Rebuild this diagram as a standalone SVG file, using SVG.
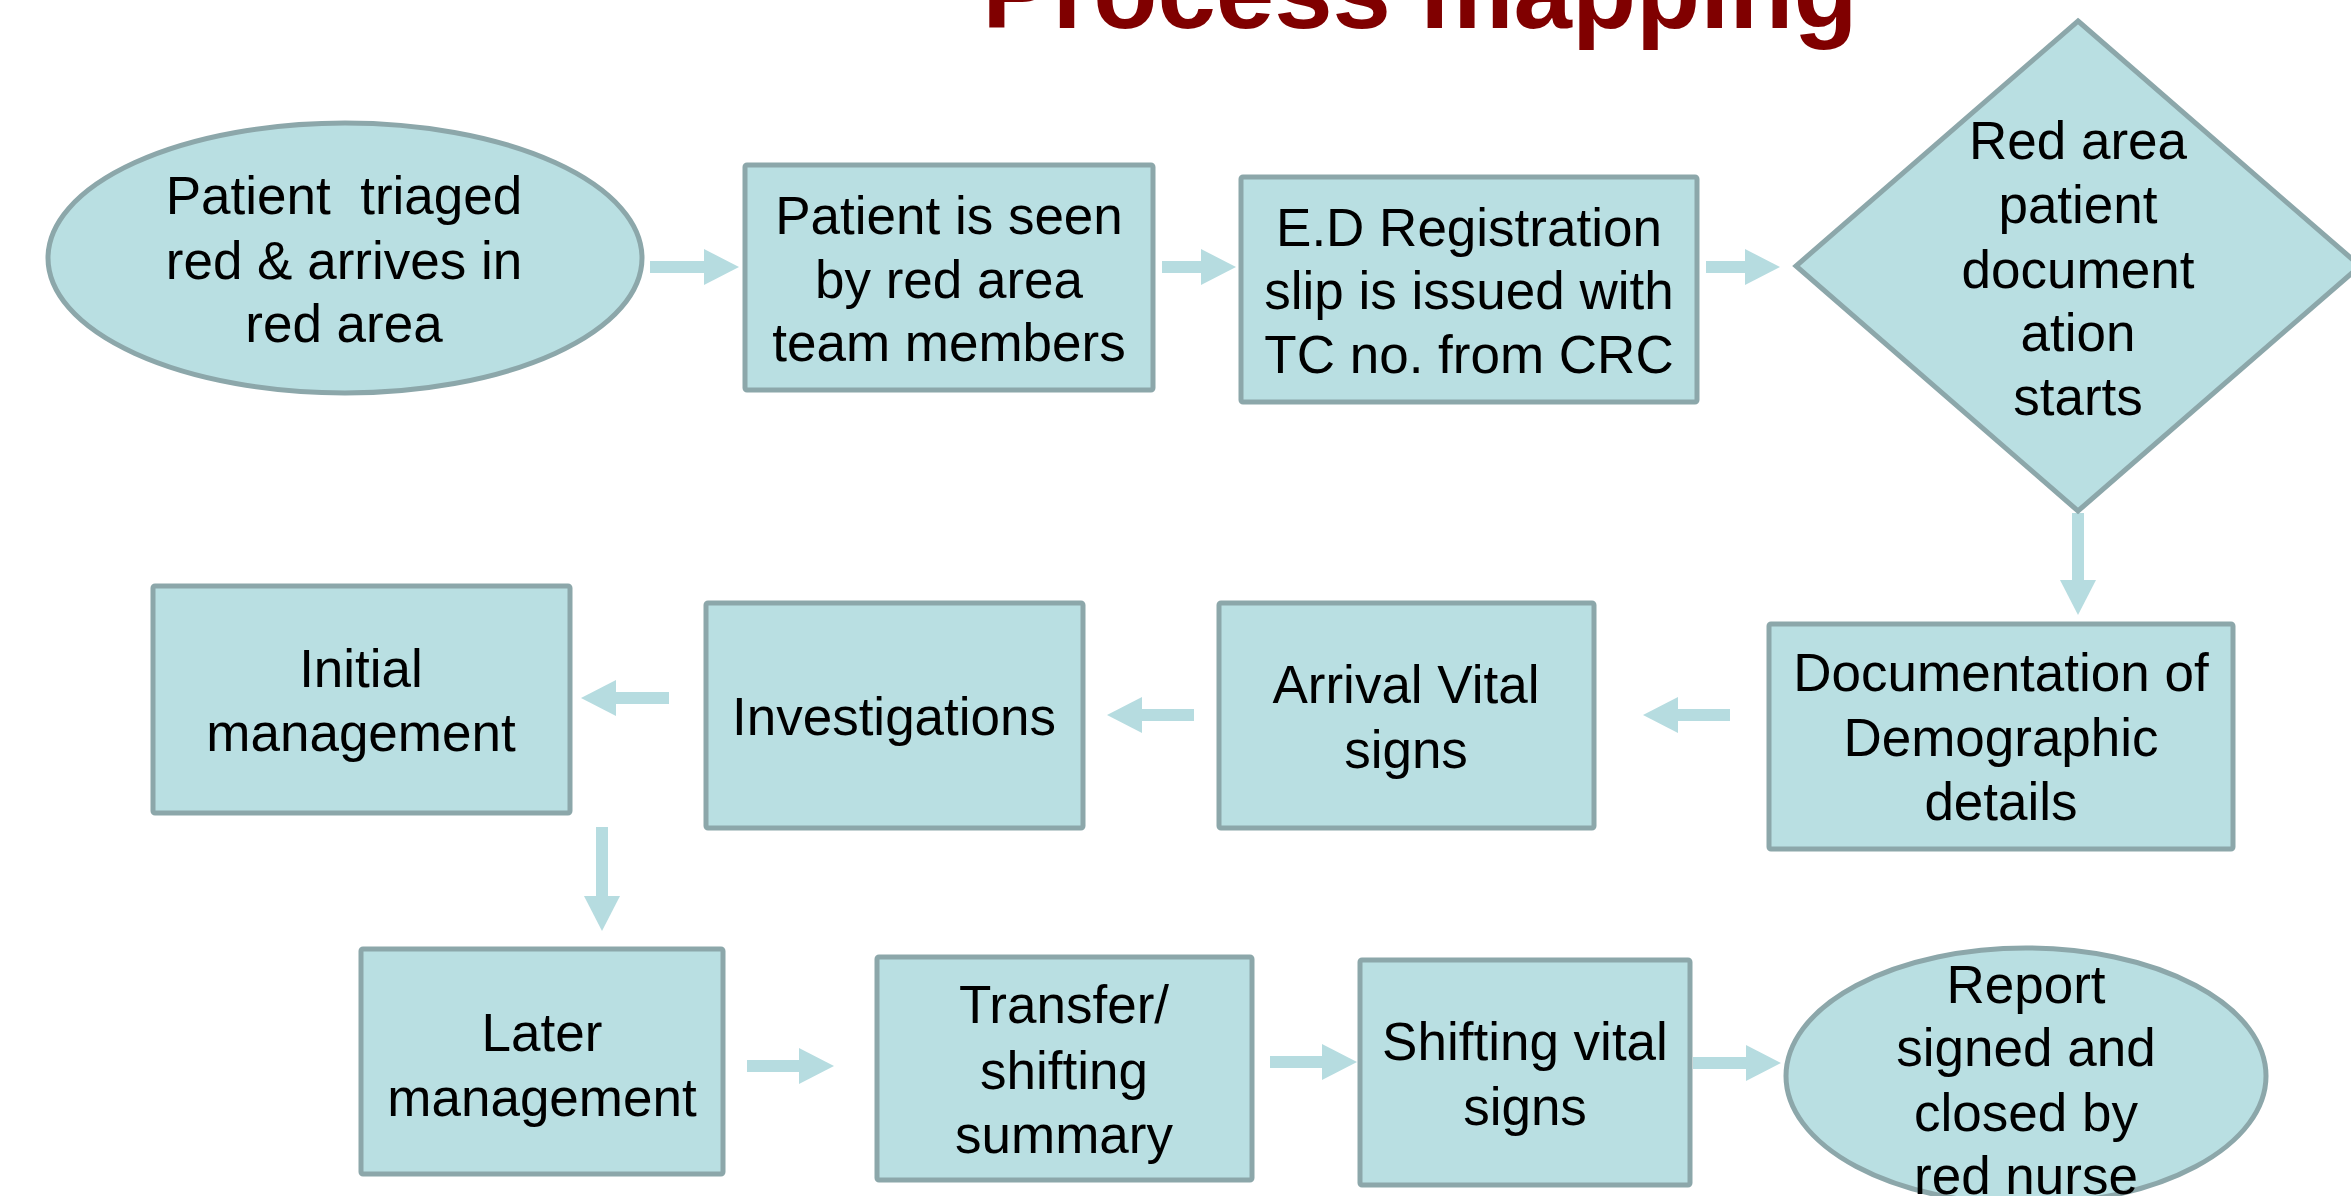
<svg xmlns="http://www.w3.org/2000/svg" width="2351" height="1196" viewBox="0 0 2351 1196">
<style>
.n{fill:#b9dfe2;stroke:#8ca7aa;stroke-width:5}
.t{font-family:"Liberation Sans",Arial,sans-serif;font-size:53px;fill:#000;text-anchor:middle;white-space:pre}
.title{font-family:"Liberation Sans",Arial,sans-serif;font-size:105px;font-weight:bold;fill:#800000;text-anchor:middle}
.c{stroke:#b6dce0;stroke-width:12;fill:none;marker-end:url(#ah)}
</style>
<defs>
<marker id="ah" markerUnits="userSpaceOnUse" markerWidth="35" markerHeight="36" refX="0" refY="18" orient="auto" overflow="visible">
<path d="M0,0 L35,18 L0,36 Z" fill="#b6dce0"/>
</marker>
</defs>
<rect width="2351" height="1196" fill="#fff"/>
<text class="title" x="1420" y="28">Process mapping</text>
<g id="connectors">
<line class="c" x1="650" y1="267" x2="704" y2="267"/>
<line class="c" x1="1162" y1="267" x2="1201" y2="267"/>
<line class="c" x1="1706" y1="267" x2="1745" y2="267"/>
<line class="c" x1="2078" y1="513" x2="2078" y2="580"/>
<line class="c" x1="1730" y1="715" x2="1678" y2="715"/>
<line class="c" x1="1194" y1="715" x2="1142" y2="715"/>
<line class="c" x1="669" y1="698" x2="616" y2="698"/>
<line class="c" x1="602" y1="827" x2="602" y2="896"/>
<line class="c" x1="747" y1="1066" x2="799" y2="1066"/>
<line class="c" x1="1270" y1="1062" x2="1322" y2="1062"/>
<line class="c" x1="1693" y1="1063" x2="1746" y2="1063"/>
</g>
<g id="n1"><ellipse class="n" cx="345" cy="258" rx="297" ry="135"/>
<text class="t" x="344" y="214">Patient  triaged</text><text class="t" x="344" y="279">red &amp; arrives in</text><text class="t" x="344" y="342">red area</text></g>
<g id="n2"><rect class="n" x="745" y="165" width="408" height="225" rx="2"/>
<text class="t" x="949" y="234">Patient is seen</text><text class="t" x="949" y="298">by red area</text><text class="t" x="949" y="361">team members</text></g>
<g id="n3"><rect class="n" x="1241" y="177" width="456" height="225" rx="2"/>
<text class="t" x="1469" y="246">E.D Registration</text><text class="t" x="1469" y="309">slip is issued with</text><text class="t" x="1469" y="373">TC no. from CRC</text></g>
<g id="n4"><polygon class="n" points="2078,21 2360,266 2078,511 1796,266"/>
<text class="t" x="2078" y="159">Red area</text><text class="t" x="2078" y="223">patient</text><text class="t" x="2078" y="288">document</text><text class="t" x="2078" y="351">ation</text><text class="t" x="2078" y="415">starts</text></g>
<g id="n5"><rect class="n" x="1769" y="624" width="464" height="225" rx="2"/>
<text class="t" x="2001" y="691">Documentation of</text><text class="t" x="2001" y="756">Demographic</text><text class="t" x="2001" y="820">details</text></g>
<g id="n6"><rect class="n" x="1219" y="603" width="375" height="225" rx="2"/>
<text class="t" x="1406" y="703">Arrival Vital</text><text class="t" x="1406" y="768">signs</text></g>
<g id="n7"><rect class="n" x="706" y="603" width="377" height="225" rx="2"/>
<text class="t" x="894" y="735">Investigations</text></g>
<g id="n8"><rect class="n" x="153" y="586" width="417" height="227" rx="2"/>
<text class="t" x="361" y="687">Initial</text><text class="t" x="361" y="751">management</text></g>
<g id="n9"><rect class="n" x="361" y="949" width="362" height="225" rx="2"/>
<text class="t" x="542" y="1051">Later</text><text class="t" x="542" y="1116">management</text></g>
<g id="n10"><rect class="n" x="877" y="957" width="375" height="223" rx="2"/>
<text class="t" x="1064" y="1023">Transfer/</text><text class="t" x="1064" y="1089">shifting</text><text class="t" x="1064" y="1153">summary</text></g>
<g id="n11"><rect class="n" x="1360" y="960" width="330" height="225" rx="2"/>
<text class="t" x="1525" y="1060">Shifting vital</text><text class="t" x="1525" y="1125">signs</text></g>
<g id="n12"><ellipse class="n" cx="2026" cy="1076" rx="240" ry="128"/>
<text class="t" x="2026" y="1003">Report</text><text class="t" x="2026" y="1066">signed and</text><text class="t" x="2026" y="1131">closed by</text><text class="t" x="2026" y="1194">red nurse</text></g>
</svg>
